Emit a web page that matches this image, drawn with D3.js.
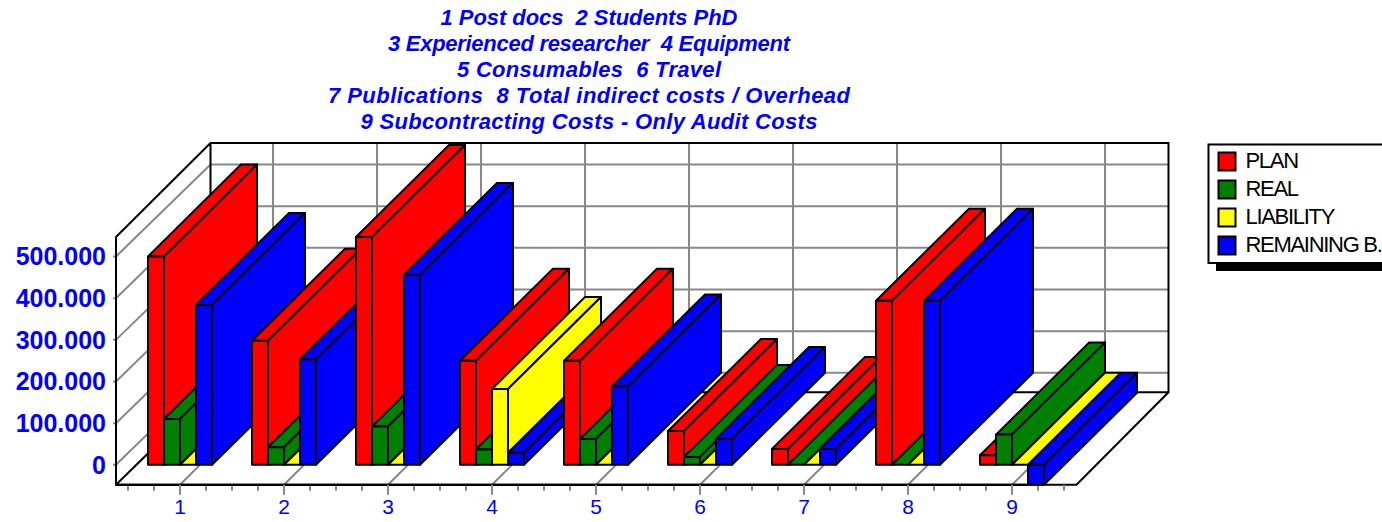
<!DOCTYPE html>
<html>
<head>
<meta charset="utf-8">
<style>
html,body{margin:0;padding:0;background:#fff;overflow:hidden}
text{font-family:"Liberation Sans",Arial,sans-serif}
</style>
<script src="https://cdn.jsdelivr.net/npm/d3@7"></script>
</head>
<body>
<svg id="chart" width="1382" height="522"></svg>
<script>
// values
var categories = ["1","2","3","4","5","6","7","8","9"];
var seriesNames = ["PLAN","REAL","LIABILITY","REMAINING B."];
var seriesColors = ["#ff0000","#008000","#ffff00","#0000ff"];
var plan = [500000,298000,547000,250000,250000,81000,38000,394000,23000];
var real = [110000,42000,92000,37000,62000,19000,0,0,72500];
var liability = [0,0,0,182000,0,0,0,0,0];
var remaining = [384000,253000,456000,29000,188000,62000,38000,394000,-48000];
var yTicks = [0,100000,200000,300000,400000,500000];
var titleLines = [
	"1 Post docs  2 Students PhD",
	"3 Experienced researcher  4 Equipment",
	"5 Consumables  6 Travel",
	"7 Publications  8 Total indirect costs / Overhead",
	"9 Subcontracting Costs - Only Audit Costs"
];
var seriesValues = [plan,real,liability,remaining];

var svg = d3.select("#chart");

// plot frame, the depth is what gives the fake 3D
var depthX = 93, depthY = -92;
var yMin = -48000, yMax = 547000;
var left = 116, right = 1076.5, backLeft = 210.5, backRight = 1168.5;
var lineW = 2;

var y = d3.scaleLinear().domain([yMin,yMax]).range([484.8,237]);
var x = d3.scaleBand().domain(categories).range([128,1064]);
var barX = d3.scaleBand().domain(seriesNames).range([-32,32]);
var bottom = y(yMin), top_ = y(yMax);
var backBottom = bottom+depthY-0.5, backTop = 143;

var center = function(c){ return x(c)+x.bandwidth()/2; };
var fmt = d3.formatLocale({decimal:",",thousands:".",grouping:[3],currency:["",""]}).format(",d");

// grid on the back wall
var grid = svg.append("g").attr("stroke","#888888").attr("stroke-width",lineW).attr("fill","none");
yTicks.forEach(function(v){
	grid.append("path").attr("d","M"+(left-3)+","+y(v)+"L"+left+","+y(v)+"L"+backLeft+","+(y(v)+depthY)+"L"+backRight+","+(y(v)+depthY));
});
categories.forEach(function(c){
	grid.append("path").attr("d","M"+center(c)+","+bottom+"L"+(center(c)+depthX)+","+backBottom+"L"+(center(c)+depthX)+","+backTop);
});

// walls and floor outline
svg.append("path")
	.attr("d","M"+left+","+top_+"L"+backLeft+","+backTop+"L"+backRight+","+backTop+"L"+backRight+","+backBottom
		+"L"+right+","+bottom+"L"+left+","+bottom+"Z"
		+"M"+left+","+bottom+"L"+backLeft+","+backBottom+"L"+backRight+","+backBottom
		+"M"+backLeft+","+backTop+"L"+backLeft+","+backBottom)
	.attr("fill","none").attr("stroke","#000").attr("stroke-width",lineW);

// ticks under the front edge
var xMinor = d3.range(0,37).map(function(i){ return 128+i*26; });
var minor = svg.append("g").attr("stroke","#888888").attr("stroke-width",lineW);
xMinor.forEach(function(t){
	minor.append("line").attr("x1",t).attr("x2",t).attr("y1",bottom).attr("y2",bottom+6);
});

// the bars, left to right so the nearer ones cover the side faces
var bars = svg.append("g").attr("stroke","#000").attr("stroke-width",lineW).attr("stroke-linejoin","round");
categories.forEach(function(c,i){
	seriesNames.forEach(function(s,k){
		var v = seriesValues[k][i];
		var x0 = center(c)+barX(s), x1 = x0+barX.bandwidth();
		var yt = y(Math.max(v,0)), yb = y(Math.min(v,0));
		var col = seriesColors[k];
		// top
		bars.append("path").attr("fill",col)
			.attr("d","M"+x0+","+yt+"L"+(x0+depthX)+","+(yt+depthY)+"L"+(x1+depthX)+","+(yt+depthY)+"L"+x1+","+yt+"Z");
		// side
		if (yb > yt){
			bars.append("path").attr("fill",col)
				.attr("d","M"+x1+","+yt+"L"+(x1+depthX)+","+(yt+depthY)+"L"+(x1+depthX)+","+(yb+depthY)+"L"+x1+","+yb+"Z");
		}
		// front
		bars.append("rect").attr("fill",col).attr("x",x0).attr("y",yt).attr("width",x1-x0).attr("height",yb-yt);
	});
});

// front edge goes over the floor lines again
svg.append("line").attr("x1",left).attr("x2",1028).attr("y1",bottom).attr("y2",bottom)
	.attr("stroke","#000").attr("stroke-width",2.2);

// major ticks and labels with the d3 axes
var xAxis = d3.axisBottom(x).tickSize(10).tickPadding(4);
var gx = svg.append("g").attr("transform","translate(0,"+bottom+")").call(xAxis);
gx.select(".domain").remove();
gx.selectAll("line").attr("stroke","#888888").attr("stroke-width",lineW);
gx.selectAll("text").attr("fill","#0000ff").attr("font-size",21).attr("font-family","Liberation Sans");

var yAxis = d3.axisLeft(y).tickValues(yTicks).tickFormat(fmt).tickSize(0).tickPadding(10);
var gy = svg.append("g").attr("transform","translate("+left+",0)").call(yAxis);
gy.select(".domain").remove();
gy.selectAll("text").attr("fill","#0000ff").attr("font-size",25).attr("font-weight","bold").attr("font-family","Liberation Sans").attr("dy","0.33em");

// title, line widths set to what the original shows
var titleWidths = [297,402,264,522,457];
svg.append("g").selectAll("text").data(titleLines).join("text")
	.attr("x",589).attr("y",function(d,i){ return 24.5+i*26; })
	.attr("text-anchor","middle").attr("fill","#0000ff")
	.attr("font-size",22).attr("font-weight","bold").attr("font-style","italic")
	.attr("textLength",function(d,i){ return titleWidths[i]; })
	.attr("lengthAdjust","spacing")
	.style("white-space","pre")
	.text(function(d){ return d; });

// legend, runs off the right side in the original
var legend = svg.append("g");
legend.append("rect").attr("x",1216).attr("y",263).attr("width",170).attr("height",8).attr("fill","#000");
legend.append("rect").attr("x",1208.5).attr("y",144.5).attr("width",180).attr("height",118.5)
	.attr("fill","#fff").attr("stroke","#000").attr("stroke-width",lineW);
seriesNames.forEach(function(s,k){
	legend.append("rect").attr("x",1218.5).attr("y",152.5+k*28).attr("width",17).attr("height",18)
		.attr("fill",seriesColors[k]).attr("stroke","#000").attr("stroke-width",lineW);
	legend.append("text").attr("x",1245.5).attr("y",168+k*28).attr("font-size",22)
		.attr("letter-spacing",-1.3).attr("fill","#000").text(s);
});
</script>
</body>
</html>
